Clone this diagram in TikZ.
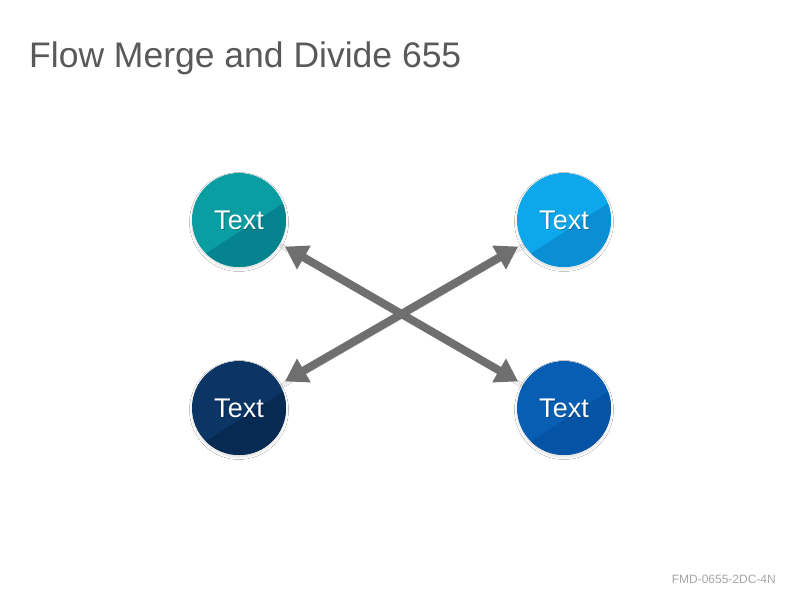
\documentclass[tikz,border=0pt]{standalone}
\usepackage{fontspec}
\setmainfont{Liberation Sans}
\usetikzlibrary{arrows.meta,shadows.blur,calc}
\definecolor{titlegray}{HTML}{595959}
\definecolor{arrowgray}{HTML}{6F6F6F}
\definecolor{footgray}{HTML}{A6A6A6}
\definecolor{tealA}{HTML}{0A9EA3}\definecolor{tealB}{HTML}{05848F}
\definecolor{skyA}{HTML}{0DA8EC}\definecolor{skyB}{HTML}{0A8FD4}
\definecolor{navyA}{HTML}{0A3565}\definecolor{navyB}{HTML}{072A52}
\definecolor{blueA}{HTML}{075EB2}\definecolor{blueB}{HTML}{0553A4}
\tikzset{
  disc/.style={circle, minimum size=94pt, inner sep=0pt, outer sep=0pt},
  disclabel/.style={text=white, font=\fontsize{27}{30}\selectfont, inner sep=0pt},
  flowarrow/.style={draw=arrowgray, line width=8pt, {Triangle[width=26pt,length=22pt]}-{Triangle[width=26pt,length=22pt]}, shorten <=6pt, shorten >=6pt,
    blur shadow={shadow xshift=1pt, shadow yshift=-2pt, shadow blur steps=4, shadow blur radius=2pt, shadow opacity=20}},
}
\newcommand{\mydisc}[4]{%
  \node[disc, fill=#3, blur shadow={shadow xshift=0pt, shadow yshift=-2pt, shadow opacity=14, shadow blur steps=5, shadow blur radius=2.5pt}] (#1) at #2 {};
  \begin{scope}
    \clip (#1) circle (47pt);
    \fill[#4] ($(#1)+(-80pt,-64pt)$) -- ($(#1)+(80pt,40pt)$) -- ($(#1)+(80pt,-100pt)$) -- ($(#1)+(-80pt,-100pt)$) -- cycle;
  \end{scope}
  \node[disclabel, text=black, opacity=0.25] at ($(#1)+(0.8pt,-1.2pt)$) {Text};
  \node[disclabel] at (#1) {Text};
}
\begin{document}
\begin{tikzpicture}[x=1pt,y=1pt]
\useasboundingbox (0,0) rectangle (800,600);
\fill[white] (0,0) rectangle (800,600);
\node[anchor=base west, text=titlegray, font=\fontsize{35.5}{40}\selectfont, inner sep=0pt] (title) at (29,532) {Flow Merge and Divide 655};
\mydisc{tl}{(239,380)}{tealA}{tealB}
\mydisc{tr}{(564,380)}{skyA}{skyB}
\mydisc{bl}{(239,192)}{navyA}{navyB}
\mydisc{br}{(564,192)}{blueA}{blueB}
\draw[flowarrow] (tl) -- (br);
\draw[flowarrow] (bl) -- (tr);
\node[anchor=base east, text=footgray, font=\fontsize{12}{14}\selectfont, inner sep=0pt] (foot) at (776,17) {FMD-0655-2DC-4N};
\end{tikzpicture}
\end{document}
